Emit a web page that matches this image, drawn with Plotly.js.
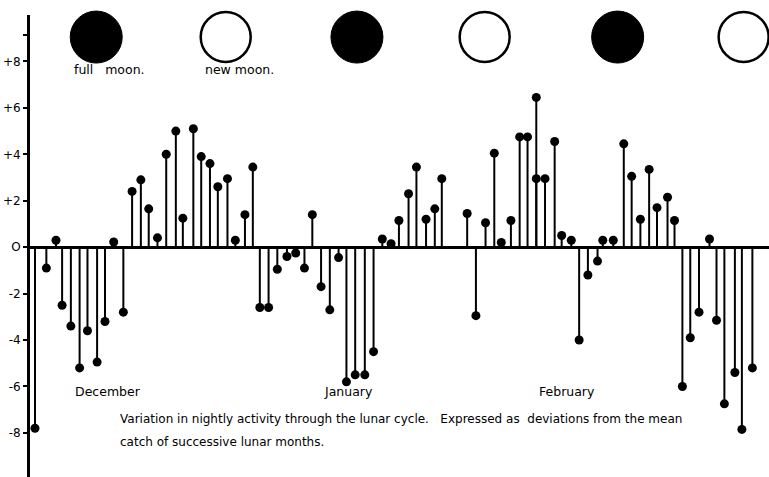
<!DOCTYPE html>
<html>
<head>
<meta charset="utf-8">
<script src="https://cdn.plot.ly/plotly-3.0.1.min.js"></script>
<style>html,body{margin:0;padding:0;background:#fff;}#chart{width:769px;height:477px;}</style>
</head>
<body>
<div id="chart"></div>
<script>
// Day index (from start of December) and deviation from mean catch
var days = [0.0,1.3,2.4,3.1,4.1,5.1,6.0,7.1,8.0,9.0,10.1,11.1,12.1,13.0,14.0,15.0,16.1,16.9,18.1,19.0,20.0,20.9,22.0,22.9,24.0,24.9,25.7,26.7,27.7,28.8,29.8,30.8,31.7,32.7,33.7,34.7,35.6,36.6,37.7,38.7,39.7,40.7,41.6,42.7,43.6,44.7,45.7,46.5,49.4,50.4,51.5,52.5,53.3,54.4,55.4,56.3,57.3,57.3,58.3,59.4,60.2,61.3,62.2,63.2,64.3,64.9,66.1,67.3,68.2,69.2,70.2,71.1,72.3,73.1,74.0,74.9,75.9,77.1,77.9,78.8,80.0,80.8,82.0];
var deviations = [-7.8,-0.9,0.3,-2.5,-3.4,-5.2,-3.6,-4.95,-3.2,0.22,-2.8,2.4,2.9,1.65,0.4,4.0,5.0,1.25,5.1,3.9,3.6,2.6,2.95,0.3,1.4,3.45,-2.6,-2.6,-0.95,-0.4,-0.25,-0.9,1.4,-1.7,-2.7,-0.45,-5.8,-5.5,-5.5,-4.5,0.35,0.15,1.15,2.3,3.45,1.2,1.65,2.95,1.45,-2.95,1.05,4.05,0.2,1.15,4.75,4.75,6.45,2.95,2.95,4.55,0.5,0.3,-4.0,-1.2,-0.6,0.3,0.3,4.45,3.05,1.2,3.35,1.7,2.15,1.15,-6.0,-3.9,-2.8,0.35,-3.15,-6.75,-5.4,-7.85,-5.2];

// Moon phases
var fullMoonDays = [7.0, 36.8, 66.6];
var newMoonDays = [21.8, 51.4, 81.0];
var moonLevel = 9.05;

// Month labels
var monthNames = ["December", "January", "February"];
var monthDays = [8.3, 35.8, 60.8];

// Y tick labels
var yTickVals = [9.15, 8, 6, 4, 2, 0, -2, -4, -6, -8];
var yTickText = ["", "+8", "+6", "+4", "+2", "O", "-2", "-4", "-6", "-8"];

var captionLines = [
  "Variation in nightly activity through the lunar cycle.   Expressed as  deviations from the mean",
  "catch of successive lunar months."
];

var stemX = [], stemY = [];
days.forEach(function (d, i) { stemX.push(d, d, null); stemY.push(0, deviations[i], null); });

var font = "DejaVu Sans, sans-serif";

var traces = [
  {x: stemX, y: stemY, mode: "lines", line: {color: "#000", width: 2}, hoverinfo: "skip", cliponaxis: false},
  {x: days, y: deviations, mode: "markers", marker: {color: "#000", size: 9}, cliponaxis: false},
  {x: fullMoonDays, y: fullMoonDays.map(function () { return moonLevel; }), mode: "markers",
   marker: {color: "#000", size: 52, line: {color: "#000", width: 1}}, cliponaxis: false},
  {x: newMoonDays, y: newMoonDays.map(function () { return moonLevel; }), mode: "markers",
   marker: {color: "#fff", size: 50, line: {color: "#000", width: 2.5}}, cliponaxis: false}
];

var annotations = [];
monthNames.forEach(function (m, i) {
  annotations.push({x: monthDays[i], y: -6.2, text: m, showarrow: false, xanchor: "center", yanchor: "middle",
    font: {family: font, size: 12.5, color: "#000"}});
});
annotations.push({x: 9.5, y: -7.4, text: captionLines[0], showarrow: false, xanchor: "left", yanchor: "middle",
  font: {family: font, size: 12, color: "#000"}});
annotations.push({x: 9.5, y: -8.4, text: captionLines[1], showarrow: false, xanchor: "left", yanchor: "middle",
  font: {family: font, size: 12, color: "#000"}});
annotations.push({x: 4.2, y: 7.65, text: "full   moon.", showarrow: false, xanchor: "left", yanchor: "middle",
  font: {family: font, size: 12.5, color: "#000"}});
annotations.push({x: 19.2, y: 7.65, text: "new moon.", showarrow: false, xanchor: "left", yanchor: "middle",
  font: {family: font, size: 12.5, color: "#000"}});

var layout = {
  width: 769, height: 477,
  margin: {l: 30, r: 0, t: 15, b: 0},
  paper_bgcolor: "#fff", plot_bgcolor: "#fff",
  showlegend: false,
  xaxis: {range: [-0.57, 83.9], showgrid: false, zeroline: false, showline: false, showticklabels: false, ticks: ""},
  yaxis: {range: [-9.9, 10.0], showgrid: false, zeroline: true, zerolinecolor: "#000", zerolinewidth: 3,
    showline: true, linecolor: "#000", linewidth: 3, ticks: "outside", ticklen: 4, tickwidth: 2, tickcolor: "#000",
    ticklabelstandoff: 0,
    tickvals: yTickVals, ticktext: yTickText, tickfont: {family: font, size: 12, color: "#000"}},
  annotations: annotations
};

Plotly.newPlot("chart", traces, layout, {displayModeBar: false, staticPlot: true});
</script>
</body>
</html>
